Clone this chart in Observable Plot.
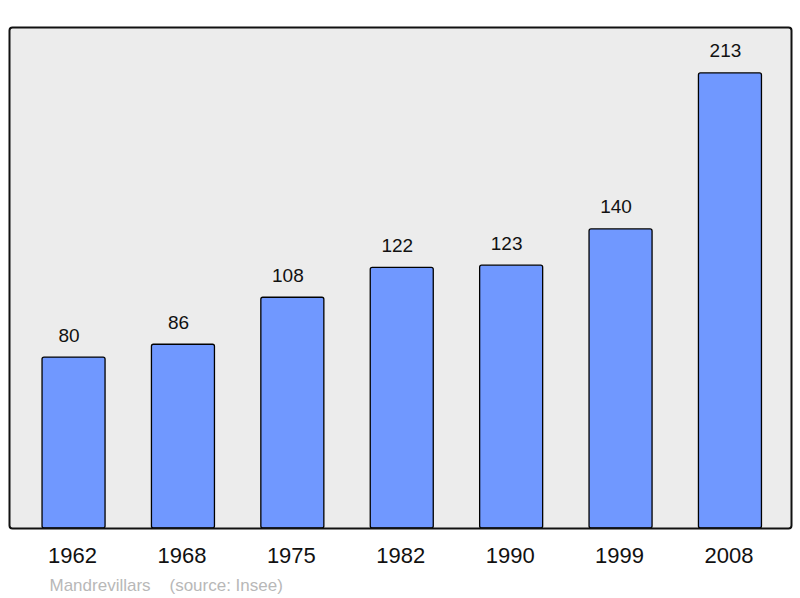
<!DOCTYPE html>
<html><head><meta charset="utf-8">
<script src="https://cdn.jsdelivr.net/npm/d3@7"></script>
<script src="https://cdn.jsdelivr.net/npm/@observablehq/plot@0.6"></script>
<style>
html,body{margin:0;padding:0;background:#fff;}
svg text{white-space:pre;}
</style>
</head><body>
<div id="chart"></div>
<script>
const years = ["1962","1968","1975","1982","1990","1999","2008"];
const population = [80, 86, 108, 122, 123, 140, 213];
const captionText = "Mandrevillars    (source: Insee)";

const data = years.map((y, i) => ({year: y, value: population[i]}));

const plot = Plot.plot({
  width: 800,
  height: 598,
  marginTop: 27,
  marginBottom: 70,
  marginLeft: 9,
  marginRight: 9,
  style: {fontFamily: "'Liberation Sans', Arial, sans-serif", background: "#fff"},
  x: {domain: years, range: [9, 794.5], paddingInner: 0.424, paddingOuter: 0.302, round: false},
  y: {domain: [0, 234.5], axis: null},
  marks: [
    Plot.frame({fill: "#ececec", stroke: "none", rx: 3}),
    Plot.barY(data, {x: "year", y: "value", fill: "#7098ff", stroke: "#000", strokeWidth: 1.3, rx: 2}),
    Plot.text(data, {x: "year", y: "value", text: d => String(d.value), dx: -5, dy: -16, lineAnchor: "bottom", fontSize: 19, fill: "#111"}),
    Plot.frame({stroke: "#111", strokeWidth: 2, rx: 3}),
    Plot.axisX({tickSize: 0, tickPadding: 19, fontSize: 22, fill: "#111", label: null, dx: -1.5}),
    Plot.text([captionText], {frameAnchor: "bottom-left", text: d => d, dx: 40, dy: 62, textAnchor: "start", lineAnchor: "bottom", fontSize: 17, fill: "#b8b8b8"})
  ]
});
document.getElementById("chart").appendChild(plot);
</script>
</body></html>
